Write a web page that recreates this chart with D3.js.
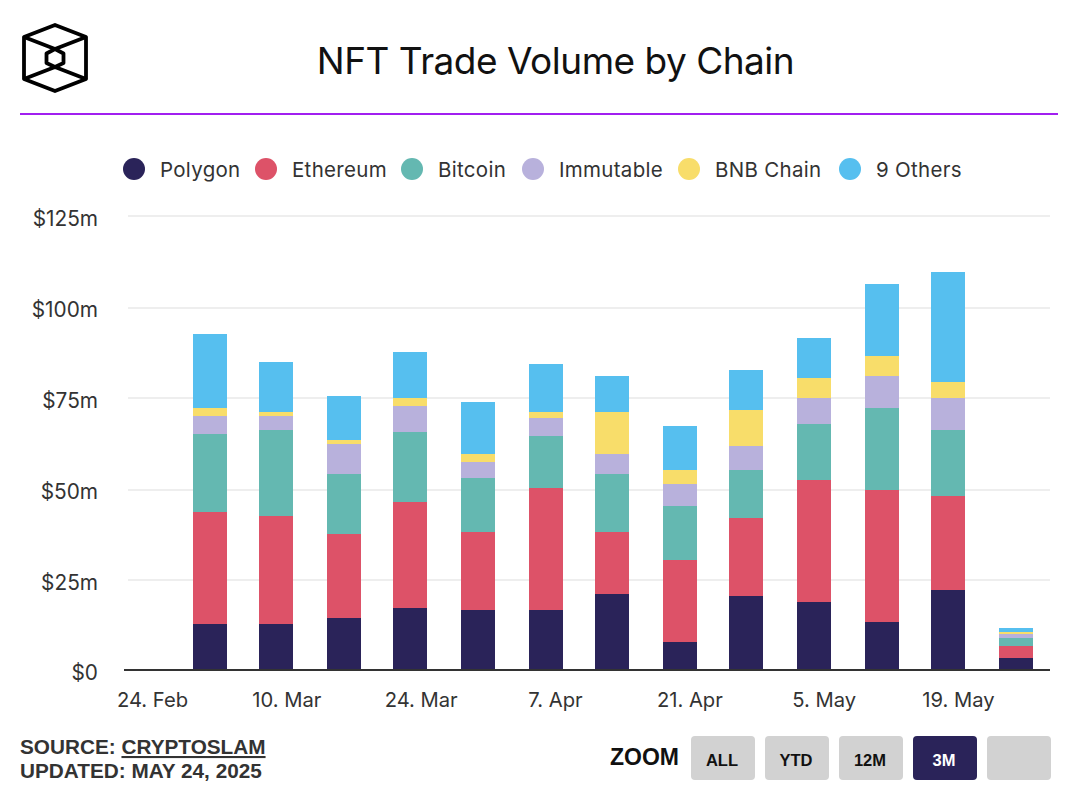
<!DOCTYPE html>
<html>
<head>
<meta charset="utf-8">
<script src="https://cdnjs.cloudflare.com/ajax/libs/d3/7.8.5/d3.min.js"></script>
<style>
html,body{margin:0;padding:0;background:#fff;}
svg{display:block;}
</style>
</head>
<body>
<svg id="chart" width="1082" height="788"></svg>
<script>
const title = "NFT Trade Volume by Chain";
const seriesNames = ["Polygon", "Ethereum", "Bitcoin", "Immutable", "BNB Chain", "9 Others"];
const seriesColors = ["#2a2359", "#dd5268", "#64b8b1", "#b8b1dc", "#f8dd6a", "#56bfef"];
const weeks = ["2025-03-02","2025-03-09","2025-03-16","2025-03-23","2025-03-30","2025-04-06","2025-04-13","2025-04-20","2025-04-27","2025-05-04","2025-05-11","2025-05-18","2025-05-25"];
const polygon   = [13.0, 13.0, 14.6, 17.4, 16.8, 16.8, 21.2,  8.0, 20.7, 19.0, 13.5, 22.3, 3.6];
const ethereum  = [30.8, 29.7, 23.1, 29.2, 21.5, 33.6, 17.1, 22.6, 21.5, 33.6, 36.3, 25.9, 3.3];
const bitcoin   = [21.5, 23.7, 16.5, 19.3, 14.9, 14.3, 16.0, 14.9, 13.2, 15.4, 22.6, 18.2, 2.2];
const immutable = [ 5.0,  3.9,  8.3,  7.2,  4.4,  5.0,  5.5,  6.1,  6.6,  7.2,  8.8,  8.8, 1.1];
const bnbChain  = [ 2.2,  1.1,  1.1,  2.2,  2.2,  1.7, 11.6,  3.9,  9.9,  5.5,  5.5,  4.4, 0.55];
const others    = [20.4, 13.8, 12.1, 12.7, 14.3, 13.2,  9.9, 12.1, 11.0, 11.0, 19.8, 30.3, 1.1];
const seriesValues = [polygon, ethereum, bitcoin, immutable, bnbChain, others];
const yTicks = [0, 25, 50, 75, 100, 125];
const xTicks = ["2025-02-24","2025-03-10","2025-03-24","2025-04-07","2025-04-21","2025-05-05","2025-05-19"];
const zoomLabels = ["ALL", "YTD", "12M", "3M", ""];
const activeZoom = "3M";

const legendDot = [134, 266, 412, 533, 689, 850];
const legendGap = 26;

const svg = d3.select("#chart");
const bodyFont = "Inter, 'Noto Sans', sans-serif";
const boldFont = "'Liberation Sans', Arial, sans-serif";
const ink = "#333";
const baseline = 670;
const snapEven = v => Math.round(v/2)*2;
const snapOdd = v => Math.round((v-1)/2)*2+1;

// header
const logo = svg.append("g").attr("fill","none").attr("stroke","#000").attr("stroke-width",3.8).attr("stroke-linejoin","round");
logo.append("path").attr("d","M55 25 L86 37 L86 79 L55 91 L24 79 L24 37 Z");
logo.append("path").attr("d","M55 49 L63.5 53.5 L63.5 63 L55 67 L46.5 63 L46.5 53.5 Z");
logo.append("path").attr("d","M24 37 L55 49 L86 37 M24 79 L55 67 L86 79");
svg.append("text").attr("x",555.5).attr("y",74).attr("text-anchor","middle")
  .attr("font-family",bodyFont).attr("font-size",37).attr("letter-spacing",-0.5).attr("fill","#111").text(title);
svg.append("rect").attr("x",20).attr("y",113).attr("width",1038).attr("height",2).attr("fill","#a11ff0");

// scales
const parse = d3.utcParse("%Y-%m-%d");
const x = d3.scaleUtc()
  .domain([new Date(Date.UTC(2025,1,21,2)), new Date(Date.UTC(2025,4,28,14))])
  .range([124, 1050]);
const y = d3.scaleLinear().domain([0,125]).range([671, 216.9]);
const barWidth = 34;

// gridlines
svg.append("g").selectAll("line").data(yTicks.filter(d=>d>0)).join("line")
  .attr("x1",128).attr("x2",1050).attr("y1",d=>snapEven(y(d))).attr("y2",d=>snapEven(y(d)))
  .attr("stroke","#eeeeee").attr("stroke-width",2);

// stacked bars
const rows = weeks.map((w,i)=>{
  const r = {date: parse(w)};
  seriesNames.forEach((n,s)=>{ r[n] = seriesValues[s][i]; });
  return r;
});
const stacked = d3.stack().keys(seriesNames)(rows);
const colour = d3.scaleOrdinal(seriesNames, seriesColors);
const py = v => Math.min(baseline, snapEven(y(v)));
svg.append("g").selectAll("g").data(stacked).join("g").attr("fill",d=>colour(d.key))
  .selectAll("rect").data(d=>d).join("rect")
  .attr("x",d=>snapOdd(x(d.data.date)-barWidth/2-0.2))
  .attr("width",barWidth)
  .attr("y",d=>py(d[1]))
  .attr("height",d=>py(d[0])-py(d[1]))
  .attr("shape-rendering","crispEdges");

// y labels
const yAxis = d3.axisLeft(y).tickValues(yTicks).tickSize(0).tickPadding(0).tickFormat(d=>d===0?"$0":`$${d}m`);
const gy = svg.append("g").attr("transform","translate(98,0)").call(yAxis);
gy.select(".domain").remove();
gy.selectAll("text").attr("font-family",bodyFont).attr("font-size",20.8).attr("fill",ink).attr("dy","0.4em");
gy.selectAll(".tick").attr("transform",d=>`translate(0,${y(d)+1})`);

// x axis
const fmt = d3.utcFormat("%-d. %b");
const xAxis = d3.axisBottom(x).tickValues(xTicks.map(parse)).tickSize(0).tickPadding(0).tickFormat(fmt);
const gx = svg.append("g").attr("transform",`translate(0,${baseline})`).call(xAxis);
gx.select(".domain").remove();
gx.selectAll("text").attr("font-family",bodyFont).attr("font-size",20.2).attr("fill",ink).attr("y",37).attr("dy",0);
svg.append("line").attr("x1",124).attr("x2",1050).attr("y1",baseline).attr("y2",baseline).attr("stroke",ink).attr("stroke-width",2);

// legend
const lg = svg.append("g").selectAll("g").data(seriesNames).join("g")
  .attr("transform",(d,i)=>`translate(${legendDot[i]},169)`);
lg.append("circle").attr("r",11).attr("fill",d=>colour(d));
lg.append("text").attr("x",legendGap).attr("y",8).attr("font-family",bodyFont).attr("font-size",20.5)
  .attr("letter-spacing",0.3).attr("fill",ink).text(d=>d);

// footer
const src = svg.append("text").attr("x",20).attr("y",754).attr("font-family",boldFont).attr("font-weight",700).attr("font-size",20.75).attr("fill",ink);
src.append("tspan").text("SOURCE: ");
src.append("tspan").attr("text-decoration","underline").text("CRYPTOSLAM");
svg.append("text").attr("x",20).attr("y",778).attr("font-family",boldFont).attr("font-weight",700).attr("font-size",20.75).attr("fill",ink).text("UPDATED: MAY 24, 2025");

// zoom control
svg.append("text").attr("x",610).attr("y",765).attr("font-family",boldFont).attr("font-weight",700).attr("font-size",23).attr("fill","#111").text("ZOOM");
const btn = svg.append("g").selectAll("g").data(zoomLabels).join("g")
  .attr("transform",(d,i)=>`translate(${691+i*74},736)`);
btn.append("rect").attr("width",64).attr("height",44).attr("rx",4)
  .attr("fill",d=>d===activeZoom?"#2a2359":"#d2d2d2");
btn.append("text").attr("x",31).attr("y",30).attr("text-anchor","middle")
  .attr("font-family",boldFont).attr("font-weight",700).attr("font-size",16.5)
  .attr("fill",d=>d===activeZoom?"#fff":"#111").text(d=>d);
</script>
</body>
</html>
